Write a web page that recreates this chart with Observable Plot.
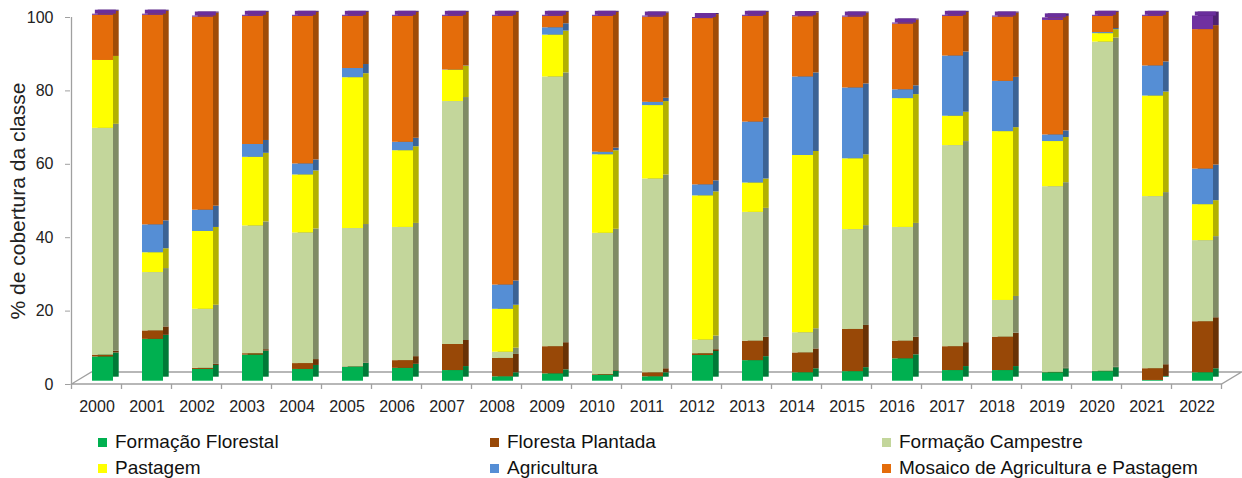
<!DOCTYPE html>
<html><head><meta charset="utf-8">
<script src="https://cdn.jsdelivr.net/npm/d3@7"></script>
<script src="https://cdn.jsdelivr.net/npm/@observablehq/plot@0.6"></script>
<style>
body{margin:0;background:#fff;font-family:"Liberation Sans",Arial,sans-serif;}
#wrap{position:relative;width:1242px;height:478px;overflow:hidden;}
.leg{position:absolute;height:22px;font-size:19px;color:#111;white-space:nowrap;display:flex;align-items:center;}
.sw{width:9px;height:9px;margin-right:8px;flex:none;}
svg g[aria-label="y-axis tick"]{stroke:#a0a0a0}
</style></head><body><div id="wrap"></div>
<script>
const years = ["2000","2001","2002","2003","2004","2005","2006","2007","2008","2009","2010","2011","2012","2013","2014","2015","2016","2017","2018","2019","2020","2021","2022"];
const classes = ["Formação Florestal","Floresta Plantada","Formação Campestre","Pastagem","Agricultura","Mosaico de Agricultura e Pastagem","Outros"];
const formacaoFlorestal = [6.6,11.4,3.2,7.1,3.2,3.8,3.5,2.9,1.2,2.0,1.6,1.2,7.0,5.6,2.3,2.6,6.1,2.9,2.9,2.3,2.6,0.2,2.3];
const florestaPlantada  = [0.5,2.3,0.3,0.4,1.6,0.1,2.1,7.1,5.0,7.4,0.2,1.1,0.5,5.3,5.4,11.5,4.8,6.5,9.1,0.1,0.1,3.2,13.9];
const formacaoCampestre = [61.8,15.9,16.1,34.8,35.6,37.7,36.3,66.2,1.7,73.5,38.5,52.8,3.7,35.1,5.5,27.2,31.0,54.8,10.0,50.6,89.7,46.9,22.1];
const pastagem          = [18.5,5.4,21.2,18.7,15.8,41.1,20.9,8.5,11.7,11.4,21.4,20.0,39.3,8.0,48.3,19.3,35.1,8.0,46.0,12.3,2.3,27.4,9.8];
const agricultura       = [0.0,7.6,5.8,3.5,3.0,2.5,2.3,0.1,6.6,2.0,0.7,0.9,3.0,16.6,21.4,19.3,2.4,16.4,13.7,1.8,0.3,8.2,9.7];
const mosaico           = [12.3,57.1,52.6,34.9,40.2,14.2,34.3,14.6,73.2,3.1,37.0,23.2,45.3,28.8,16.4,19.3,17.9,10.8,17.5,31.2,4.4,13.5,38.0];
const outros            = [0.3,0.3,0.3,0.3,0.3,0.3,0.3,0.3,0.3,0.3,0.3,0.3,0.3,0.3,0.3,0.3,0.3,0.3,0.3,0.7,0.3,0.3,3.7];
const series = [formacaoFlorestal, florestaPlantada, formacaoCampestre, pastagem, agricultura, mosaico, outros];
const yTicks = [0,20,40,60,80,100];
const yTitle = "% de cobertura da classe";
const legendLabels = classes.slice(0,6);

const frontColors = ["#00b050","#984807","#c3d69b","#ffff00","#558ed5","#e46c0a","#7030a0"];
const sideColors  = ["#007a37","#6a3205","#7f8b65","#b3b000","#3b6395","#a04c07","#4e2270"];
const topColor = "#6a2e9c";

const data = [];
years.forEach((y,i)=>series.forEach((s,k)=>data.push({year:y, k, cls:classes[k], value:s[i]})));
const totals = years.map((y,i)=>({year:y, total: d3.sum(series, s=>s[i])}));

const chart = Plot.plot({
  width:1242, height:425,
  marginLeft:70, marginRight:19.3, marginTop:17, marginBottom:41,
  style:{fontFamily:'"Liberation Sans",Arial,sans-serif', fontSize:"16px", color:"#222", background:"white", overflow:"visible"},
  x:{domain:years, paddingInner:0.58, paddingOuter:0.29, label:null},
  y:{domain:[0,100], label:null},
  color:{type:"identity"},
  marks:[
    Plot.barY(data,{x:"year", y:"value", fill:d=>sideColors[d.k], dx:11.7, dy:-7.3}),
    Plot.barY(data,{x:"year", y:"value", fill:d=>frontColors[d.k], dx:6, dy:-3.3}),
    Plot.barY(totals,{x:"year", y1:"total", y2:"total", insetTop:-4, dx:8.85, dy:-3.3, fill:topColor}),
    Plot.axisX({tickSize:0, tickPadding:16, fontSize:16, label:null}),
    Plot.axisY({ticks:yTicks, tickSize:5, tickPadding:12, fontSize:16, label:null}),
    Plot.text([yTitle],{text:d=>d, frameAnchor:"left", textAnchor:"middle", rotate:-90, dx:-52, fontSize:21, fill:"#222"})
  ]
});

// floor, axis line and category boundary ticks drawn from the plot's scales
const xs = chart.scale("x"), ys = chart.scale("y");
const y0 = ys.apply(0), yTop = ys.apply(100);
const step = xs.step, bw = xs.bandwidth;
const left = xs.apply(years[0]) - (step-bw)/2;
const right = left + step*years.length;
const svg = d3.select(chart);
const g = svg.insert("g",":first-child").attr("stroke","#a0a0a0").attr("fill","none").attr("stroke-width",1.3);
const ddx = 20, ddy = -12;
g.append("path").attr("d",`M${left},${y0}H${right}L${right+ddx},${y0+ddy}H${left+ddx}Z`);
g.append("path").attr("d",`M${left},${yTop}V${y0}`);
for (let i=0;i<=years.length;i++) g.append("path").attr("d",`M${left+i*step},${y0}v5`);

const wrap = document.getElementById("wrap");
wrap.appendChild(chart);
const colX = [98,490,882], rowY = [442,468];
legendLabels.forEach((lab,i)=>{
  const d = document.createElement("div");
  d.className="leg";
  d.style.left = colX[i%3]+"px";
  d.style.top = (rowY[Math.floor(i/3)]-11)+"px";
  d.innerHTML = `<span class="sw" style="background:${frontColors[i]}"></span>${lab}`;
  wrap.appendChild(d);
});
</script></body></html>
